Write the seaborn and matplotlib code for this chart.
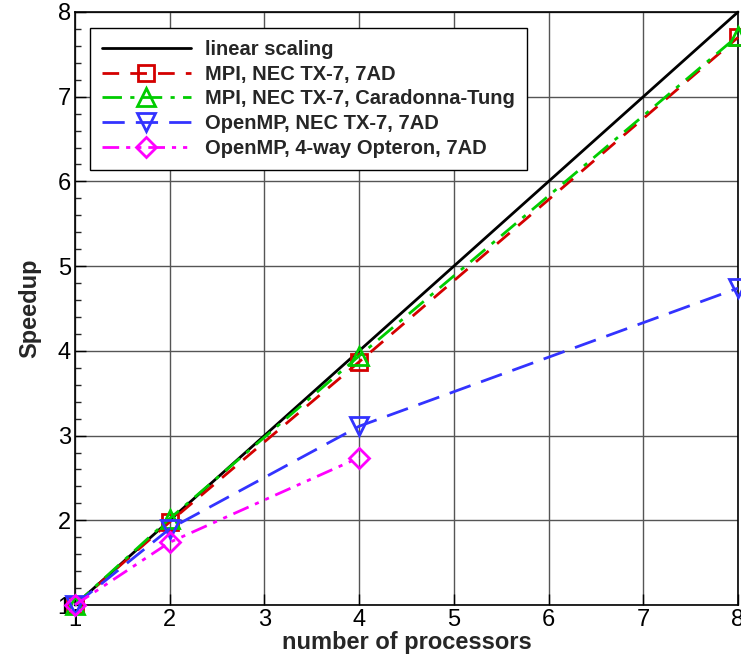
import numpy as np
import pandas as pd
import matplotlib
matplotlib.use("Agg")
import matplotlib.pyplot as plt
import seaborn as sns
from matplotlib.ticker import MultipleLocator

sns.set_theme(style="white")
plt.rcParams['font.family'] = ['Liberation Sans', 'DejaVu Sans']

linear_x = [1, 8]
linear_y = [1, 8]
procs = [1, 2, 4, 8]
mpi_7ad = [1.0, 1.98, 3.87, 7.70]
mpi_ct = [1.0, 2.02, 3.94, 7.72]
omp_nec = [1.0, 1.90, 3.11, 4.74]
procs_opt = [1, 2, 4]
omp_opt = [1.0, 1.74, 2.74]

labels = ["linear scaling", "MPI, NEC TX-7, 7AD", "MPI, NEC TX-7, Caradonna-Tung",
          "OpenMP, NEC TX-7, 7AD", "OpenMP, 4-way Opteron, 7AD"]

fig = plt.figure(figsize=(7.41, 6.55), dpi=100)
ax = fig.add_axes([75/741, 50/655, (738-75)/741, (605-12)/655])

series = [
    (linear_x, linear_y, labels[0], "black", "-", None, 0),
    (procs, mpi_7ad, labels[1], "#d40000", (0, (6, 4)), "s", 11),
    (procs, mpi_ct, labels[2], "#00cc00", (0, (7, 3, 1.5, 3)), "^", 13),
    (procs, omp_nec, labels[3], "#3333ff", (0, (8, 4)), "v", 13),
    (procs_opt, omp_opt, labels[4], "#ff00ff", (0, (6, 2.5, 1.5, 2.5, 1.5, 2.5)), "D", 10),
]
for xs, ys, lab, col, ls, mk, ms in series:
    df = pd.DataFrame({"x": xs, "y": ys})
    sns.lineplot(data=df, x="x", y="y", ax=ax, color=col, linestyle=ls, linewidth=2,
                 marker=mk if mk else None, markersize=ms,
                 markerfacecolor="none", markeredgecolor=col, markeredgewidth=2,
                 label=lab, clip_on=False, zorder=3)

ax.set_xlim(1, 8)
ax.set_ylim(1, 8)
ax.xaxis.set_major_locator(MultipleLocator(1))
ax.yaxis.set_major_locator(MultipleLocator(1))
ax.yaxis.set_minor_locator(MultipleLocator(0.2))
ax.grid(True, which="major", color="#555555", linewidth=1)
ax.tick_params(axis="both", which="major", direction="in", length=8, width=1,
               labelsize=17, colors="black", bottom=True, left=True, pad=3)
ax.tick_params(axis="y", which="minor", direction="in", length=4, width=1, left=True)
for s in ax.spines.values():
    s.set_color("black")
    s.set_linewidth(1.2)
ax.set_xlabel("number of processors", fontsize=17, fontweight="bold", labelpad=0)
ax.set_ylabel("Speedup", fontsize=17, fontweight="bold", labelpad=12)

leg = ax.legend(loc="upper left", bbox_to_anchor=(15/663, 1 - 16/593), borderaxespad=0,
                fancybox=False, edgecolor="black", framealpha=1,
                prop={"weight": "bold", "size": 14.5},
                handlelength=4.4, borderpad=0.6, labelspacing=0.28, handletextpad=0.7)
leg.get_frame().set_linewidth(1)

fig.savefig("out.png", dpi=100)
